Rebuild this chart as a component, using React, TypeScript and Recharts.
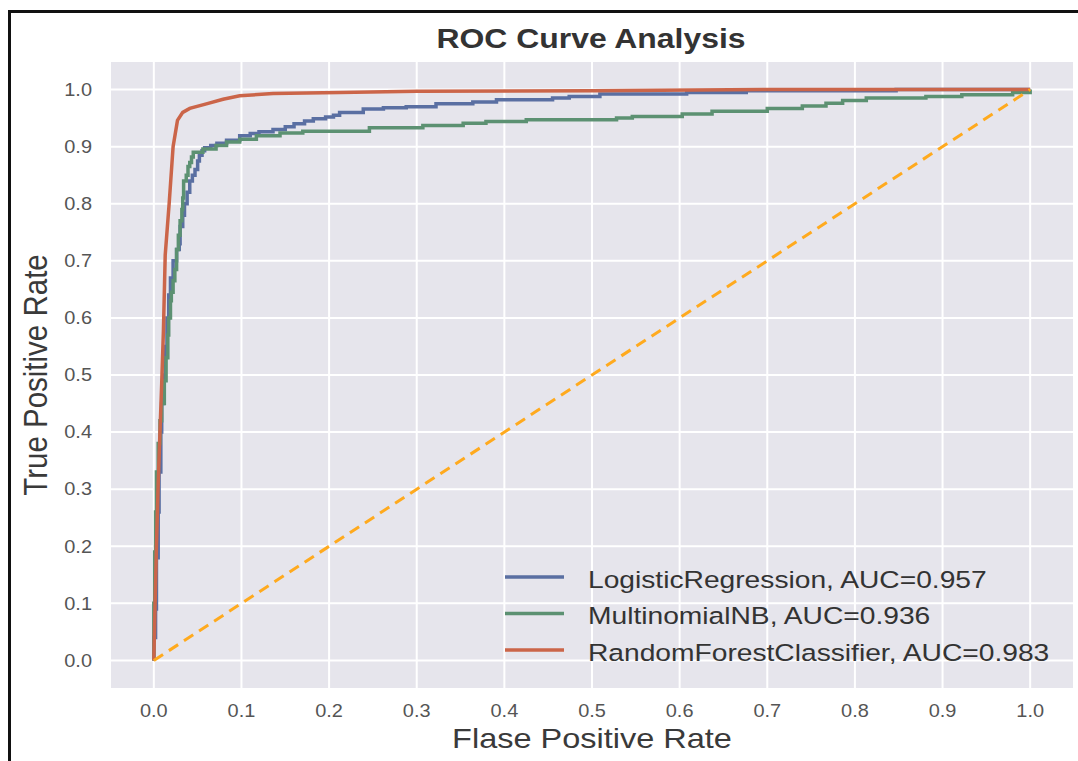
import React from 'react';
import { LineChart, Line, XAxis, YAxis, CartesianGrid } from 'recharts';

// ROC points (fpr, tpr). LR/NB are step curves, RF is smooth.
const lrFpr = [0, 0, 0.002, 0.003, 0.005, 0.006, 0.008, 0.009, 0.011, 0.013, 0.015, 0.017, 0.019, 0.022, 0.026, 0.029, 0.03, 0.033, 0.035, 0.038, 0.041, 0.044, 0.047, 0.05, 0.052, 0.055, 0.058, 0.065, 0.072, 0.083, 0.098, 0.11, 0.12, 0.136, 0.15, 0.16, 0.172, 0.182, 0.196, 0.205, 0.212, 0.239, 0.262, 0.288, 0.322, 0.364, 0.391, 0.455, 0.474, 0.509, 0.608, 0.676, 0.847, 1.0];
const lrTpr = [0, 0.04, 0.09, 0.18, 0.26, 0.33, 0.4, 0.45, 0.5, 0.55, 0.6, 0.64, 0.67, 0.7, 0.72, 0.73, 0.76, 0.78, 0.8, 0.82, 0.84, 0.85, 0.86, 0.875, 0.885, 0.893, 0.898, 0.902, 0.906, 0.911, 0.919, 0.923, 0.926, 0.93, 0.935, 0.94, 0.945, 0.949, 0.952, 0.955, 0.96, 0.966, 0.968, 0.97, 0.975, 0.978, 0.982, 0.985, 0.988, 0.992, 0.995, 0.998, 1.0, 1.0];

const nbFpr = [0, 0, 0.001, 0.002, 0.003, 0.005, 0.007, 0.009, 0.012, 0.014, 0.016, 0.017, 0.019, 0.02, 0.022, 0.024, 0.026, 0.028, 0.03, 0.032, 0.033, 0.034, 0.037, 0.039, 0.041, 0.043, 0.045, 0.056, 0.071, 0.083, 0.098, 0.117, 0.144, 0.17, 0.246, 0.307, 0.353, 0.379, 0.425, 0.528, 0.546, 0.603, 0.637, 0.7, 0.74, 0.767, 0.786, 0.813, 0.881, 0.922, 0.98, 1.0];
const nbTpr = [0, 0.1, 0.19, 0.26, 0.33, 0.38, 0.42, 0.45, 0.49, 0.53, 0.57, 0.6, 0.63, 0.645, 0.665, 0.685, 0.72, 0.745, 0.77, 0.79, 0.81, 0.84, 0.85, 0.865, 0.872, 0.882, 0.89, 0.896, 0.902, 0.908, 0.913, 0.919, 0.924, 0.927, 0.933, 0.937, 0.941, 0.944, 0.947, 0.95, 0.953, 0.957, 0.962, 0.967, 0.971, 0.976, 0.981, 0.985, 0.988, 0.991, 0.995, 1.0];

const rfFpr = [0, 0.001, 0.003, 0.005, 0.007, 0.009, 0.011, 0.013, 0.0175, 0.022, 0.027, 0.033, 0.041, 0.06, 0.079, 0.098, 0.136, 0.212, 0.3, 0.5, 0.7, 1.0];
const rfTpr = [0, 0.07, 0.2, 0.31, 0.4, 0.485, 0.58, 0.71, 0.8, 0.9, 0.946, 0.96, 0.967, 0.975, 0.983, 0.989, 0.993, 0.995, 0.997, 0.998, 1.0, 1.0];

const diagFpr = [0, 1];
const diagTpr = [0, 1];

const ticks = [0, 0.1, 0.2, 0.3, 0.4, 0.5, 0.6, 0.7, 0.8, 0.9, 1.0];

const seriesNames = ['LogisticRegression, AUC=0.957', 'MultinomialNB, AUC=0.936', 'RandomForestClassifier, AUC=0.983'];
const seriesColors = ['#5A6FA2', '#5C9172', '#CB6549'];

const zip = (xs: number[], ys: number[]) => xs.map((x, i) => ({ fpr: x, tpr: ys[i] }));

const lrData = zip(lrFpr, lrTpr);
const nbData = zip(nbFpr, nbTpr);
const rfData = zip(rfFpr, rfTpr);
const diagData = zip(diagFpr, diagTpr);

const FONT = '"Liberation Sans", Arial, sans-serif';
const SX = 1.14; // the reference text is a bit stretched sideways

const XTick = (props: any) => {
  const { x, payload } = props;
  return (
    <text transform={`translate(${x},717) scale(${SX},1)`} textAnchor="middle" fontSize={17.5} fill="#555" fontFamily={FONT}>
      {payload.value.toFixed(1)}
    </text>
  );
};

const YTick = (props: any) => {
  const { y, payload } = props;
  return (
    <text transform={`translate(92,${y + 6.3}) scale(${SX},1)`} textAnchor="end" fontSize={17.5} fill="#555" fontFamily={FONT}>
      {payload.value.toFixed(1)}
    </text>
  );
};

export default function App() {
  return (
    <div style={{ position: 'absolute', left: 0, top: 0, width: 1078, height: 761, background: '#fff', overflow: 'hidden' }}>
      <LineChart width={1078} height={761} margin={{ top: 61, right: 4, bottom: 42, left: 50 }}>
        <CartesianGrid stroke="#fff" strokeWidth={2} fill="#E6E5EC" />
        <XAxis
          type="number"
          dataKey="fpr"
          domain={[-0.05, 1.05]}
          ticks={ticks}
          allowDataOverflow
          height={30}
          tickLine={false}
          axisLine={false}
          tick={<XTick />}
          interval={0}
        />
        <YAxis
          type="number"
          dataKey="tpr"
          domain={[-0.05, 1.05]}
          ticks={ticks}
          allowDataOverflow
          width={60}
          tickLine={false}
          axisLine={false}
          tick={<YTick />}
          interval={0}
        />
        <Line data={lrData} dataKey="tpr" type="stepAfter" stroke={seriesColors[0]} strokeWidth={3.5} dot={false} activeDot={false} isAnimationActive={false} />
        <Line data={nbData} dataKey="tpr" type="stepAfter" stroke={seriesColors[1]} strokeWidth={3.5} dot={false} activeDot={false} isAnimationActive={false} />
        <Line data={rfData} dataKey="tpr" type="linear" stroke={seriesColors[2]} strokeWidth={3.5} dot={false} activeDot={false} isAnimationActive={false} />
        <Line data={diagData} dataKey="tpr" type="linear" stroke="#FFAA1E" strokeWidth={3} strokeDasharray="11 7" dot={false} activeDot={false} isAnimationActive={false} />
      </LineChart>

      <svg width={1078} height={761} style={{ position: 'absolute', left: 0, top: 0, pointerEvents: 'none' }}>
        <text transform={`translate(591,48) scale(${SX},1)`} textAnchor="middle" fontSize={28} fontWeight="bold" fill="#333" fontFamily={FONT}>
          ROC Curve Analysis
        </text>
        <text transform={`translate(592,748) scale(${SX},1)`} textAnchor="middle" fontSize={28.5} fill="#3a3a3a" fontFamily={FONT}>
          Flase Positive Rate
        </text>
        <text transform={`translate(47,375) scale(${SX},1) rotate(-90)`} textAnchor="middle" fontSize={29.5} fill="#3a3a3a" fontFamily={FONT}>
          True Positive Rate
        </text>
        {seriesNames.map((name, i) => (
          <g key={name}>
            <line x1={505} x2={564} y1={577 + i * 36.5} y2={577 + i * 36.5} stroke={seriesColors[i]} strokeWidth={3.5} />
            <text transform={`translate(588,${587.8 + i * 36.5}) scale(1.2,1)`} fontSize={23.5} fill="#333" fontFamily={FONT}>
              {name}
            </text>
          </g>
        ))}
      </svg>

      <div style={{ position: 'absolute', left: 8, top: 10, right: -10, bottom: -10, borderLeft: '3px solid #111', borderTop: '3px solid #111', pointerEvents: 'none' }} />
    </div>
  );
}
